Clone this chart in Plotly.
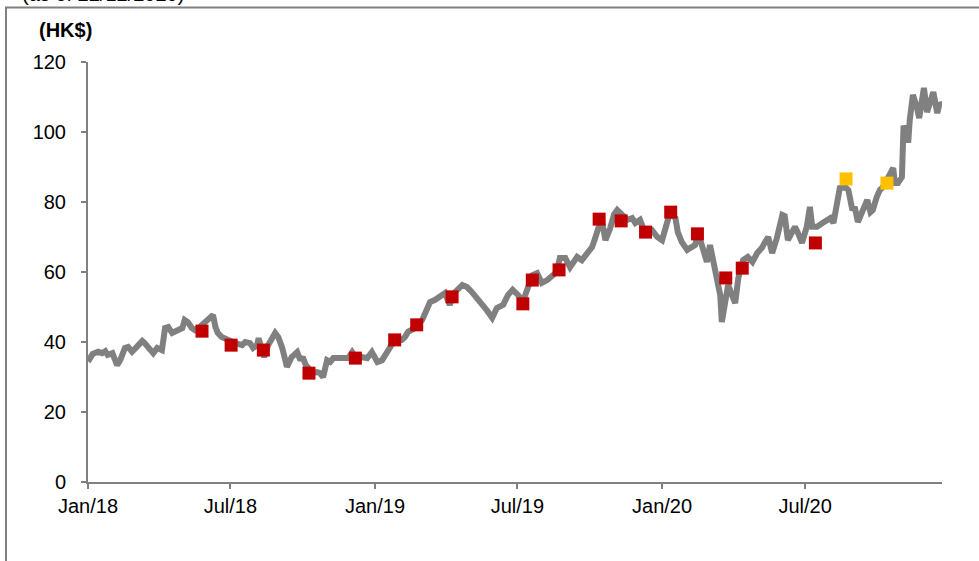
import plotly.graph_objects as go

# ---- price line (HK$) ----
dates = [
    "2018-01-01","2018-01-07","2018-01-14","2018-01-19","2018-01-23","2018-01-26","2018-02-01","2018-02-07",
    "2018-02-11","2018-02-17","2018-02-21","2018-02-26","2018-03-04","2018-03-11","2018-03-14","2018-03-21",
    "2018-03-25","2018-03-30","2018-04-05","2018-04-09","2018-04-13","2018-04-18","2018-04-24","2018-05-01",
    "2018-05-04","2018-05-08","2018-05-13","2018-05-17","2018-05-23","2018-06-01","2018-06-09","2018-06-12",
    "2018-06-15","2018-06-20","2018-06-27","2018-07-07","2018-07-16","2018-07-20","2018-07-26","2018-07-30",
    "2018-08-04","2018-08-06","2018-08-10","2018-08-13","2018-08-18","2018-08-27","2018-08-31","2018-09-05",
    "2018-09-11","2018-09-17","2018-09-24","2018-09-28","2018-10-01","2018-10-05","2018-10-14","2018-10-19",
    "2018-10-23","2018-10-27","2018-11-01","2018-11-05","2018-11-09","2018-11-15","2018-11-21","2018-11-28",
    "2018-12-03","2018-12-10","2018-12-15","2018-12-22","2018-12-28","2019-01-04","2019-01-10","2019-01-16",
    "2019-01-20","2019-01-26","2019-02-04","2019-02-08","2019-02-12","2019-02-21","2019-03-02","2019-03-06",
    "2019-03-09","2019-03-12","2019-03-18","2019-03-25","2019-03-31","2019-04-06","2019-04-13","2019-04-22",
    "2019-04-28","2019-05-04","2019-05-11","2019-05-17","2019-05-23","2019-05-30","2019-06-05","2019-06-13",
    "2019-06-19","2019-06-25","2019-07-02","2019-07-08","2019-07-15","2019-07-20","2019-07-26","2019-08-01",
    "2019-08-08","2019-08-14","2019-08-20","2019-08-24","2019-08-31","2019-09-06","2019-09-15","2019-09-21",
    "2019-09-28","2019-10-04","2019-10-08","2019-10-12","2019-10-17","2019-10-21","2019-10-27","2019-11-01",
    "2019-11-05","2019-11-11","2019-11-18","2019-11-24","2019-11-28","2019-12-04","2019-12-10","2019-12-19",
    "2019-12-26","2020-01-01","2020-01-07","2020-01-11","2020-01-18","2020-01-21","2020-01-26","2020-02-02",
    "2020-02-06","2020-02-12","2020-02-16","2020-02-22","2020-02-27","2020-03-02","2020-03-06","2020-03-11",
    "2020-03-15","2020-03-17","2020-03-21","2020-03-25","2020-03-30","2020-04-03","2020-04-07","2020-04-13",
    "2020-04-19","2020-04-25","2020-05-01","2020-05-07","2020-05-11","2020-05-15","2020-05-20","2020-05-26",
    "2020-06-02","2020-06-05","2020-06-09","2020-06-14","2020-06-18","2020-06-22","2020-06-27","2020-07-03",
    "2020-07-07","2020-07-10","2020-07-16","2020-07-23","2020-07-29","2020-08-02","2020-08-06","2020-08-11",
    "2020-08-14","2020-08-21","2020-08-25","2020-08-30","2020-09-02","2020-09-06","2020-09-13","2020-09-18",
    "2020-09-22","2020-09-25","2020-09-30","2020-10-04","2020-10-08","2020-10-17","2020-10-21","2020-10-23",
    "2020-10-27","2020-11-01","2020-11-03","2020-11-08","2020-11-09","2020-11-11","2020-11-15","2020-11-20",
    "2020-11-23","2020-11-27","2020-11-29","2020-12-03","2020-12-07","2020-12-11","2020-12-16","2020-12-19",
    "2020-12-22",
]
prices = [
    34.4,36.6,37.2,36.8,37.4,36.3,36.8,33.4,
    34.8,38.3,38.6,37.2,38.6,40.3,39.7,37.7,
    36.8,38.3,37.7,44.0,44.3,42.6,43.1,44.0,
    46.3,45.7,44.0,43.4,44.3,46.3,47.7,44.3,
    42.6,41.4,40.6,39.7,39.1,40.0,39.7,38.3,
    39.1,41.1,37.7,35.7,39.1,42.6,41.4,38.3,
    32.9,35.7,37.1,34.8,35.7,33.4,31.1,31.4,
    31.1,30.0,34.8,34.3,35.4,35.4,35.7,35.4,
    37.1,34.8,35.7,35.4,37.1,34.3,34.8,36.8,
    38.6,40.6,40.6,41.4,42.9,44.0,46.3,48.3,
    50.6,51.4,52.0,52.9,54.0,50.6,54.3,56.3,
    55.7,54.3,52.6,50.6,49.1,46.9,49.7,50.6,
    53.4,54.9,53.4,51.5,55.7,59.1,59.7,56.9,
    57.7,58.6,60.0,64.0,64.0,61.4,64.3,63.4,
    65.4,67.1,69.7,72.6,74.0,69.1,72.5,76.5,
    77.7,76.3,74.9,75.4,74.0,74.9,71.4,72.0,
    70.0,69.1,74.0,76.9,75.4,71.4,68.6,66.3,
    66.9,67.7,71.1,67.1,62.9,67.7,62.9,59.1,
    53.4,45.7,50.6,56.3,53.4,51.1,58.3,63.4,
    64.3,62.9,65.4,66.9,68.6,70.0,65.4,69.7,
    76.3,76.0,69.1,71.1,72.9,71.1,68.3,72.9,
    78.6,72.9,72.9,74.0,74.9,75.4,74.0,81.4,
    84.0,84.3,83.4,77.7,78.6,74.3,78.6,80.6,
    77.1,77.7,81.4,83.4,84.3,88.3,89.7,85.4,
    85.4,87.1,101.1,101.4,96.9,103.4,110.6,107.1,
    104.0,109.7,112.6,105.7,109.1,111.4,105.4,108.3,
    107.5,
]

# ---- red markers ----
red_dates = ["2018-05-26","2018-07-02","2018-08-12","2018-10-09","2018-12-07","2019-01-26","2019-02-23",
             "2019-04-09","2019-07-08","2019-07-20","2019-08-23","2019-10-13","2019-11-10","2019-12-11",
             "2020-01-12","2020-02-15","2020-03-22","2020-04-12","2020-07-14"]
red_values = [43.1,39.1,37.7,31.1,35.4,40.6,44.9,52.9,50.9,57.7,60.6,75.1,74.6,71.4,77.1,70.9,58.3,61.1,68.3]

# ---- yellow markers ----
yellow_dates = ["2020-08-22","2020-10-13"]
yellow_values = [86.6,85.4]

tick_vals = ["2018-01-01","2018-07-01","2019-01-01","2019-07-01","2020-01-01","2020-07-01"]
tick_text = ["Jan/18","Jul/18","Jan/19","Jul/19","Jan/20","Jul/20"]

FONT = "Liberation Sans, Arial, sans-serif"
GRAY = "#808080"

fig = go.Figure()
fig.add_trace(go.Scatter(x=dates, y=prices, mode="lines",
                         line=dict(color=GRAY, width=6), hoverinfo="skip", showlegend=False))
fig.add_trace(go.Scatter(x=red_dates, y=red_values, mode="markers",
                         marker=dict(symbol="square", size=13, color="#C00000"), showlegend=False))
fig.add_trace(go.Scatter(x=yellow_dates, y=yellow_values, mode="markers",
                         marker=dict(symbol="square", size=13, color="#FFC000"), showlegend=False))

L, R, T, B = 88, 37, 62, 79
W, H = 979, 561
pw, ph = W - L - R, H - T - B

def px(x):
    return (x - L) / pw

def py(y):
    return (H - B - y) / ph

fig.update_layout(
    width=W, height=H,
    margin=dict(l=L, r=R, t=T, b=B, pad=0),
    paper_bgcolor="white", plot_bgcolor="white",
    font=dict(family=FONT, size=20, color="black"),
    xaxis=dict(type="date", range=["2018-01-01", "2020-12-22"],
               tickvals=tick_vals, ticktext=tick_text,
               showline=True, linecolor=GRAY, linewidth=2,
               ticks="outside", ticklen=5, tickcolor=GRAY, tickwidth=2,
               showgrid=False, zeroline=False),
    yaxis=dict(range=[0, 120], dtick=20, tick0=0,
               showline=True, linecolor=GRAY, linewidth=2,
               ticks="outside", ticklen=5, tickcolor=GRAY, tickwidth=2,
               ticklabelstandoff=11,
               showgrid=False, zeroline=False),
    annotations=[
        dict(text="<b>(HK$)</b>", xref="paper", yref="paper", x=px(37), y=py(30),
             xanchor="left", yanchor="middle", showarrow=False, font=dict(size=20)),
        dict(text="(as of 22/12/2020)", xref="paper", yref="paper", x=px(20), y=py(-6),
             xanchor="left", yanchor="middle", showarrow=False, font=dict(size=20)),
    ],
    shapes=[
        dict(type="rect", xref="paper", yref="paper",
             x0=px(6), x1=px(995), y0=py(590), y1=py(7.5),
             line=dict(color=GRAY, width=2), fillcolor="rgba(0,0,0,0)", layer="below"),
    ],
)

fig.write_html("out.html")
